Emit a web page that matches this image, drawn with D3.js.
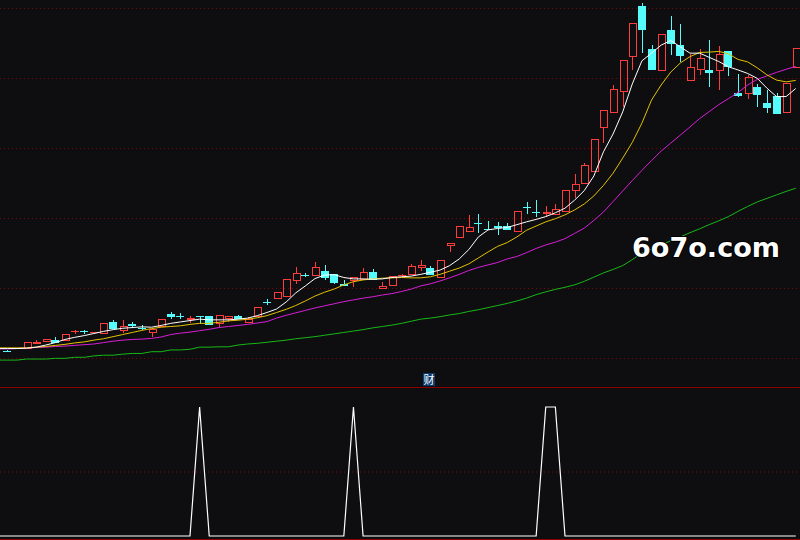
<!DOCTYPE html>
<html>
<head>
<meta charset="utf-8">
<script src="https://cdn.jsdelivr.net/npm/d3@7"></script>
<style>
    html, body { margin: 0; padding: 0; background: #0e0e11; overflow: hidden; }
    svg { display: block; }
</style>
</head>
<body>
<script>
// Daily bars, oldest first (prices)
var openPrice = [
    4.27, 4.21, 4.26, 4.25, 4.39, 4.45, 4.52, 4.49, 4.73, 4.77,
    4.71, 4.69, 5.04, 4.78, 4.97, 4.87, 4.71, 4.89, 5.26, 5.21,
    5.09, 5.19, 5.20, 4.96, 5.11, 5.20, 4.99, 5.18, 5.60, 5.69,
    5.75, 6.20, 6.37, 6.35, 6.49, 6.40, 6.11, 6.21, 6.23, 6.47,
    5.96, 6.07, 6.36, 6.37, 6.57, 6.57, 6.29, 7.21, 7.44, 7.59,
    7.86, 7.69, 7.76, 7.77, 7.59, 8.30, 8.18, 8.11, 8.09, 8.18,
    8.78, 8.97, 9.32, 10.56, 11.01, 11.59, 12.61, 14.06, 12.83, 12.21,
    13.37, 12.94, 11.92, 12.23, 12.23, 12.21, 12.77, 11.58, 11.53, 11.73,
    11.28, 11.49, 11.01, 12.28
];
var highPrice = [
    4.29, 4.23, 4.29, 4.46, 4.52, 4.54, 4.59, 4.69, 4.81, 4.79,
    4.73, 5.00, 5.09, 5.09, 5.03, 4.94, 4.83, 5.11, 5.31, 5.29,
    5.20, 5.20, 5.20, 5.23, 5.20, 5.24, 5.17, 5.45, 5.68, 5.89,
    6.25, 6.59, 6.44, 6.74, 6.66, 6.40, 6.22, 6.32, 6.56, 6.54,
    6.16, 6.33, 6.41, 6.69, 6.80, 6.64, 6.79, 7.28, 7.77, 8.09,
    8.11, 7.92, 7.89, 7.87, 8.19, 8.47, 8.51, 8.35, 8.40, 8.79,
    9.26, 9.56, 10.25, 11.08, 11.80, 12.51, 13.56, 14.13, 12.94, 13.25,
    13.77, 13.54, 12.69, 12.82, 13.09, 12.91, 12.77, 12.11, 12.09, 11.83,
    11.66, 11.56, 11.85, 12.85
];
var lowPrice = [
    4.26, 4.17, 4.25, 4.25, 4.39, 4.45, 4.44, 4.49, 4.69, 4.69,
    4.71, 4.69, 4.83, 4.71, 4.85, 4.80, 4.61, 4.89, 5.11, 5.11,
    5.01, 4.96, 4.94, 4.88, 5.04, 5.11, 4.99, 5.18, 5.51, 5.69,
    5.75, 6.11, 6.31, 6.35, 6.23, 6.11, 6.06, 6.04, 6.23, 6.23,
    5.96, 6.07, 6.31, 6.37, 6.49, 6.37, 6.29, 7.04, 7.44, 7.59,
    7.58, 7.65, 7.51, 7.66, 7.59, 8.11, 8.04, 8.04, 8.09, 8.18,
    8.56, 8.97, 9.32, 10.13, 11.01, 11.16, 12.23, 12.71, 12.23, 12.21,
    12.66, 12.47, 11.92, 12.09, 11.75, 11.66, 12.06, 11.45, 11.41, 11.18,
    10.99, 10.96, 11.01, 12.28
];
var closePrice = [
    4.28, 4.19, 4.28, 4.46, 4.46, 4.54, 4.44, 4.69, 4.78, 4.76,
    4.73, 5.00, 4.83, 4.91, 4.91, 4.86, 4.83, 5.11, 5.16, 5.19,
    5.14, 5.17, 4.94, 5.23, 5.20, 5.11, 5.11, 5.45, 5.59, 5.89,
    6.25, 6.42, 6.35, 6.59, 6.29, 6.15, 6.06, 6.32, 6.45, 6.23,
    6.06, 6.33, 6.37, 6.63, 6.65, 6.37, 6.79, 7.28, 7.77, 7.75,
    7.84, 7.67, 7.71, 7.66, 8.19, 8.29, 8.16, 8.17, 8.27, 8.79,
    8.97, 9.51, 10.25, 11.08, 11.68, 12.51, 13.56, 13.37, 12.23, 13.25,
    12.98, 12.64, 12.31, 12.56, 12.15, 12.69, 12.32, 11.49, 12.02, 11.51,
    11.15, 10.96, 11.85, 12.85
];

// Moving average lines as shown (white, yellow, magenta, green)
var ma5 = [
    4.27, 4.27, 4.27, 4.28, 4.31, 4.37, 4.44, 4.53, 4.59, 4.64,
    4.70, 4.76, 4.81, 4.85, 4.87, 4.89, 4.88, 4.93, 4.99, 5.03,
    5.07, 5.11, 5.09, 5.09, 5.09, 5.11, 5.14, 5.21, 5.30, 5.40,
    5.60, 5.86, 6.06, 6.27, 6.37, 6.38, 6.30, 6.26, 6.26, 6.25,
    6.26, 6.30, 6.32, 6.34, 6.39, 6.45, 6.51, 6.64, 6.83, 7.10,
    7.46, 7.66, 7.70, 7.73, 7.81, 7.89, 7.96, 8.04, 8.15, 8.28,
    8.51, 8.78, 9.20, 9.89, 10.40, 11.03, 11.83, 12.49, 12.71, 12.94,
    13.07, 12.89, 12.71, 12.71, 12.59, 12.47, 12.32, 12.23, 12.13, 11.99,
    11.71, 11.47, 11.47, 11.70
];
var ma10 = [
    4.29, 4.29, 4.29, 4.29, 4.31, 4.33, 4.36, 4.39, 4.43, 4.46,
    4.51, 4.55, 4.61, 4.67, 4.73, 4.79, 4.84, 4.88, 4.90, 4.92,
    4.96, 4.99, 4.99, 5.02, 5.06, 5.08, 5.11, 5.15, 5.21, 5.30,
    5.39, 5.50, 5.63, 5.77, 5.88, 5.97, 6.09, 6.18, 6.23, 6.26,
    6.28, 6.29, 6.30, 6.29, 6.29, 6.32, 6.39, 6.48, 6.57, 6.69,
    6.86, 7.03, 7.19, 7.30, 7.46, 7.65, 7.77, 7.89, 7.98, 8.09,
    8.23, 8.40, 8.63, 8.93, 9.28, 9.71, 10.16, 10.71, 11.37, 11.80,
    12.17, 12.43, 12.61, 12.73, 12.74, 12.76, 12.69, 12.53, 12.46, 12.29,
    12.09, 11.94, 11.89, 11.93
];
var ma20 = [
    4.26, 4.26, 4.27, 4.28, 4.30, 4.31, 4.33, 4.34, 4.36, 4.38,
    4.40, 4.44, 4.48, 4.51, 4.53, 4.54, 4.56, 4.60, 4.67, 4.71,
    4.74, 4.78, 4.82, 4.87, 4.90, 4.93, 4.96, 5.00, 5.04, 5.14,
    5.22, 5.29, 5.36, 5.43, 5.49, 5.55, 5.61, 5.66, 5.71, 5.75,
    5.80, 5.84, 5.90, 5.97, 6.06, 6.12, 6.20, 6.29, 6.39, 6.50,
    6.59, 6.66, 6.73, 6.83, 6.90, 7.01, 7.13, 7.23, 7.31, 7.41,
    7.56, 7.71, 7.93, 8.17, 8.47, 8.77, 9.07, 9.36, 9.64, 9.91,
    10.14, 10.37, 10.60, 10.84, 11.04, 11.24, 11.41, 11.59, 11.80, 11.96,
    12.06, 12.16, 12.25, 12.33
];
var ma60 = [
    3.94, 3.94, 3.94, 3.97, 3.97, 3.97, 3.99, 3.99, 4.02, 4.02,
    4.06, 4.08, 4.08, 4.11, 4.13, 4.13, 4.18, 4.18, 4.23, 4.23,
    4.25, 4.31, 4.31, 4.32, 4.32, 4.37, 4.40, 4.42, 4.45, 4.48,
    4.51, 4.55, 4.58, 4.61, 4.65, 4.69, 4.73, 4.77, 4.81, 4.86,
    4.90, 4.94, 4.99, 5.05, 5.11, 5.14, 5.18, 5.23, 5.27, 5.33,
    5.38, 5.44, 5.50, 5.56, 5.63, 5.71, 5.81, 5.89, 5.96, 6.02,
    6.09, 6.19, 6.31, 6.43, 6.53, 6.64, 6.81, 7.00, 7.11, 7.23,
    7.35, 7.46, 7.58, 7.69, 7.81, 7.92, 8.04, 8.19, 8.33, 8.46,
    8.56, 8.66, 8.76, 8.85
];

// Lower panel indicator (0 / 1)
var signal = [
    0, 0, 0, 0, 0, 0, 0, 0, 0, 0,
    0, 0, 0, 0, 0, 0, 0, 0, 0, 0,
    0, 1, 0, 0, 0, 0, 0, 0, 0, 0,
    0, 0, 0, 0, 0, 0, 0, 1, 0, 0,
    0, 0, 0, 0, 0, 0, 0, 0, 0, 0,
    0, 0, 0, 0, 0, 0, 0, 1, 1, 0,
    0, 0, 0, 0, 0, 0, 0, 0, 0, 0,
    0, 0, 0, 0, 0, 0, 0, 0, 0, 0,
    0, 0, 0, 0
];

var priceTicks = [4, 6, 8, 10, 12, 14];
var signalTicks = [0.5];
var panelLabel = "财";
var watermark = "6o7o.com";

(function(){
    var width = 800,
        height = 540,
        barStep = 9.615,
        firstBarX = -2.3;

    var bgColor = "#0e0e11",
        upColor = "#ff3c3c",
        downColor = "#54fcfc",
        gridColor = "#7a0808",
        frameColor = "#8c0000";

    var maLines = [
        {values: ma60, color: "#16b816"},
        {values: ma20, color: "#d81ed8"},
        {values: ma10, color: "#e2c200"},
        {values: ma5, color: "#ffffff"}
    ];

    window.onload = setChart;

    function setChart(){
        var svg = d3.select("body")
            .append("svg")
            .attr("width", width)
            .attr("height", height);

        svg.append("rect")
            .attr("width", width)
            .attr("height", height)
            .attr("fill", bgColor);

        var n = closePrice.length;
        var start = firstBarX - barStep / 2;

        var x = d3.scaleBand()
            .domain(d3.range(n))
            .range([start, start + n * barStep])
            .paddingInner(0.27)
            .paddingOuter(0.135);

        var yPrice = d3.scaleLinear()
            .domain([4, 14])
            .range([358, 8]);

        var ySignal = d3.scaleLinear()
            .domain([0, 1])
            .range([536, 407]);

        function center(i){
            return x(i) + x.bandwidth() / 2;
        }

        drawGrid(svg, yPrice, priceTicks);
        drawGrid(svg, ySignal, signalTicks);

        // panel frame lines
        svg.append("line")
            .attr("x1", 0).attr("x2", width)
            .attr("y1", 387.5).attr("y2", 387.5)
            .attr("stroke", frameColor);
        svg.append("line")
            .attr("x1", 0).attr("x2", width)
            .attr("y1", 539.5).attr("y2", 539.5)
            .attr("stroke", frameColor);

        drawCandles(svg, x, yPrice, center);

        var line = d3.line()
            .x(function(d, i){ return center(i); })
            .y(function(d){ return yPrice(d); });

        svg.selectAll(".ma")
            .data(maLines)
            .enter()
            .append("path")
            .attr("class", "ma")
            .attr("d", function(d){ return line(d.values); })
            .attr("fill", "none")
            .attr("stroke", function(d){ return d.color; })
            .attr("stroke-width", 1);

        // lower indicator
        var sigLine = d3.line()
            .x(function(d, i){ return center(i); })
            .y(function(d){ return ySignal(d); });

        svg.append("path")
            .attr("d", sigLine(signal))
            .attr("fill", "none")
            .attr("stroke", "#ffffff")
            .attr("stroke-width", 1.2);

        svg.append("rect")
            .attr("x", 423)
            .attr("y", 373)
            .attr("width", 12)
            .attr("height", 13)
            .attr("fill", "#0b3a6c");

        svg.append("text")
            .attr("x", 429)
            .attr("y", 384)
            .attr("text-anchor", "middle")
            .attr("font-family", "'Noto Sans CJK SC', sans-serif")
            .attr("font-size", 11)
            .attr("fill", "#ffffff")
            .text(panelLabel);

        svg.append("text")
            .attr("x", 632)
            .attr("y", 257)
            .attr("font-family", "'DejaVu Sans', sans-serif")
            .attr("font-weight", "bold")
            .attr("font-size", 26)
            .attr("textLength", 148)
            .attr("lengthAdjust", "spacingAndGlyphs")
            .attr("fill", "#ffffff")
            .attr("stroke", "#000000")
            .attr("stroke-width", 2)
            .attr("paint-order", "stroke")
            .text(watermark);
    }

    function drawGrid(svg, scale, ticks){
        var axis = d3.axisRight(scale)
            .tickValues(ticks)
            .tickSize(width)
            .tickFormat("");

        var g = svg.append("g")
            .attr("class", "grid")
            .call(axis);

        g.select(".domain").remove();
        g.selectAll("line")
            .attr("stroke", gridColor)
            .attr("stroke-dasharray", "1,3");
    }

    function drawCandles(svg, x, yPrice, center){
        var idx = d3.range(closePrice.length);

        var candles = svg.selectAll(".candle")
            .data(idx)
            .enter()
            .append("g")
            .attr("class", "candle")
            .attr("shape-rendering", "crispEdges");

        candles.each(function(i){
            var g = d3.select(this);
            var cx = Math.round(center(i)) + 0.5;
            var up = closePrice[i] >= openPrice[i];
            var color = up ? upColor : downColor;
            var top = Math.round(yPrice(Math.max(openPrice[i], closePrice[i])));
            var bot = Math.round(yPrice(Math.min(openPrice[i], closePrice[i])));
            var hi = Math.round(yPrice(highPrice[i]));
            var lo = Math.round(yPrice(lowPrice[i]));
            var half = Math.round(x.bandwidth() / 2);

            if (up && bot - top >= 2){
                if (hi < top){
                    g.append("line")
                        .attr("x1", cx).attr("x2", cx)
                        .attr("y1", hi).attr("y2", top)
                        .attr("stroke", color);
                }
                if (lo > bot){
                    g.append("line")
                        .attr("x1", cx).attr("x2", cx)
                        .attr("y1", bot).attr("y2", lo)
                        .attr("stroke", color);
                }
                g.append("rect")
                    .attr("x", cx - half + 0.5)
                    .attr("y", top + 0.5)
                    .attr("width", half * 2 - 1)
                    .attr("height", bot - top - 1)
                    .attr("fill", "none")
                    .attr("stroke", color);
            } else {
                if (lo > hi){
                    g.append("line")
                        .attr("x1", cx).attr("x2", cx)
                        .attr("y1", hi).attr("y2", lo)
                        .attr("stroke", color);
                }
                g.append("rect")
                    .attr("x", cx - half - 0.5)
                    .attr("y", top)
                    .attr("width", half * 2)
                    .attr("height", Math.max(1, bot - top))
                    .attr("fill", color);
            }
        });
    }
})();
</script>
</body>
</html>
